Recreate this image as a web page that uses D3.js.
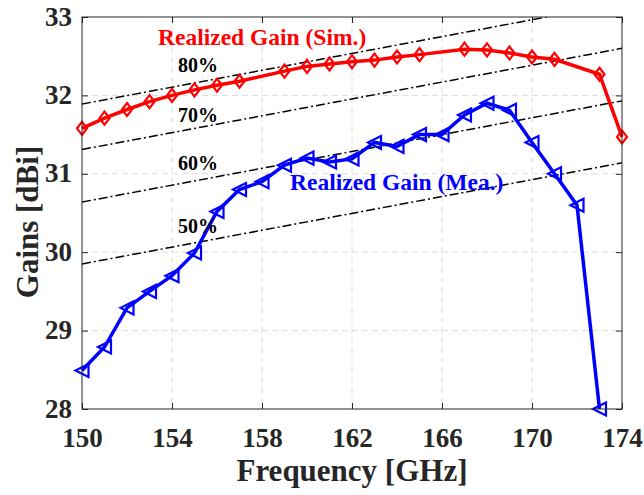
<!DOCTYPE html>
<html>
<head>
<meta charset="utf-8">
<script src="https://cdn.jsdelivr.net/npm/d3@7"></script>
<style>
  body { margin: 0; background: #fff; }
  text { font-family: "Liberation Serif", "Times New Roman", serif; font-weight: bold; }
</style>
</head>
<body>
<svg id="chart" width="644" height="495"></svg>
<script>
// simulated realized gain
const simFreq = [150,151,152,153,154,155,156,157,159,160,161,162,163,164,165,167,168,169,170,171,173,174];
const simGain = [31.58,31.71,31.82,31.92,32.0,32.07,32.13,32.18,32.31,32.37,32.4,32.43,32.45,32.49,32.52,32.59,32.58,32.54,32.49,32.46,32.27,31.47];

// measured realized gain
const meaFreq = [150,151,152,153,154,155,156,157,158,159,160,161,162,163,164,165,166,167,168,169,170,171,172,173];
const meaGain = [28.49,28.79,29.29,29.5,29.7,29.99,30.52,30.8,30.9,31.11,31.2,31.15,31.19,31.4,31.35,31.5,31.5,31.75,31.9,31.81,31.4,31.0,30.6,28.0];

// aperture efficiency reference lines (gain at 150 and 174 GHz)
const effLabels = ["50%","60%","70%","80%"];
const effStart = [29.85,30.64,31.31,31.89];
const effEnd = [31.14,31.93,32.6,33.18];

const xTicks = [150,154,158,162,166,170,174];
const yTicks = [28,29,30,31,32,33];

const svg = d3.select("#chart"),
    margin = {top: 17, right: 22, bottom: 86, left: 82},
    width = +svg.attr("width") - margin.left - margin.right,
    height = +svg.attr("height") - margin.top - margin.bottom;

const x = d3.scaleLinear().domain([150,174]).range([0, width]);
const y = d3.scaleLinear().domain([28,33]).range([height, 0]);

const g = svg.append("g").attr("transform", `translate(${margin.left},${margin.top})`);

svg.append("defs").append("clipPath").attr("id", "clip")
    .append("rect").attr("width", width).attr("height", height);

// grid
g.append("g").selectAll("line")
    .data(xTicks.slice(1, -1))
    .join("line")
    .attr("x1", d => x(d)).attr("x2", d => x(d))
    .attr("y1", 0).attr("y2", height)
    .attr("stroke", "#dcdcdc").attr("stroke-dasharray", "6,4");
g.append("g").selectAll("line")
    .data(yTicks.slice(1, -1))
    .join("line")
    .attr("x1", 0).attr("x2", width)
    .attr("y1", d => y(d)).attr("y2", d => y(d))
    .attr("stroke", "#dcdcdc").attr("stroke-dasharray", "6,4");

// efficiency lines
const plot = g.append("g").attr("clip-path", "url(#clip)");
plot.append("g").selectAll("line")
    .data(effLabels)
    .join("line")
    .attr("x1", x(150)).attr("x2", x(174))
    .attr("y1", (d, i) => y(effStart[i]))
    .attr("y2", (d, i) => y(effEnd[i]))
    .attr("stroke", "#000").attr("stroke-width", 1.5)
    .attr("stroke-dasharray", "9,3,2,3");

const line = d3.line().x(d => x(d[0])).y(d => y(d[1]));

const simData = simFreq.map((f, i) => [f, simGain[i]]);
const meaData = meaFreq.map((f, i) => [f, meaGain[i]]);

// red sim curve
g.append("path").datum(simData)
    .attr("d", line)
    .attr("fill", "none").attr("stroke", "#ff0000").attr("stroke-width", 3.5);
g.append("g").selectAll("path")
    .data(simData)
    .join("path")
    .attr("d", "M0,-6.5L5,0L0,6.5L-5,0Z")
    .attr("transform", d => `translate(${x(d[0])},${y(d[1])})`)
    .attr("fill", "none").attr("stroke", "#ff0000").attr("stroke-width", 2.2);

// blue measured curve
g.append("path").datum(meaData)
    .attr("d", line)
    .attr("fill", "none").attr("stroke", "#0000ff").attr("stroke-width", 3.5);
g.append("g").selectAll("path")
    .data(meaData)
    .join("path")
    .attr("d", "M-6.5,0L6.5,-6.5L6.5,6.5Z")
    .attr("transform", d => `translate(${x(d[0])},${y(d[1])})`)
    .attr("fill", "none").attr("stroke", "#0000ff").attr("stroke-width", 2.2);

// box
g.append("rect").attr("width", width).attr("height", height)
    .attr("fill", "none").attr("stroke", "#262626").attr("stroke-width", 1);

// axes with inward ticks
const xAxis = g.append("g").attr("transform", `translate(0,${height})`)
    .call(d3.axisBottom(x).tickValues(xTicks).tickSize(-6).tickPadding(19).tickFormat(d3.format("d")));
const xAxisTop = g.append("g")
    .call(d3.axisTop(x).tickValues(xTicks).tickSize(-6).tickFormat(""));
const yAxis = g.append("g")
    .call(d3.axisLeft(y).tickValues(yTicks).tickSize(-6).tickPadding(10).tickFormat(d3.format("d")));
const yAxisRight = g.append("g").attr("transform", `translate(${width},0)`)
    .call(d3.axisRight(y).tickValues(yTicks).tickSize(-6).tickFormat(""));

[xAxis, xAxisTop, yAxis, yAxisRight].forEach(a => {
  a.select(".domain").remove();
  a.selectAll(".tick line").attr("stroke", "#262626");
  a.selectAll("text").attr("fill", "#262626").style("font-size", "27px");
});
xAxis.selectAll("text").attr("dy", "0.71em");
yAxis.selectAll("text").attr("dy", "0.3em");

// axis titles
svg.append("text")
    .attr("x", margin.left + width / 2).attr("y", 481)
    .attr("text-anchor", "middle").attr("fill", "#262626")
    .style("font-size", "31px")
    .text("Frequency [GHz]");
svg.append("text")
    .attr("transform", `translate(38,222) rotate(-90)`)
    .attr("text-anchor", "middle").attr("fill", "#262626")
    .style("font-size", "31px")
    .text("Gains [dBi]");

// annotations
const effLabelY = [233,170,122,72];
g.append("g").selectAll("text")
    .data(effLabels)
    .join("text")
    .attr("x", 178 - margin.left)
    .attr("y", (d, i) => effLabelY[i] - margin.top)
    .attr("fill", "#000")
    .style("font-size", "20px")
    .text(d => d);

svg.append("text").attr("x", 158).attr("y", 45)
    .attr("fill", "#ff0000").style("font-size", "23.5px")
    .text("Realized Gain (Sim.)");
svg.append("text").attr("x", 290).attr("y", 190)
    .attr("fill", "#0000ff").style("font-size", "23.5px")
    .text("Realized Gain (Mea.)");
</script>
</body>
</html>
